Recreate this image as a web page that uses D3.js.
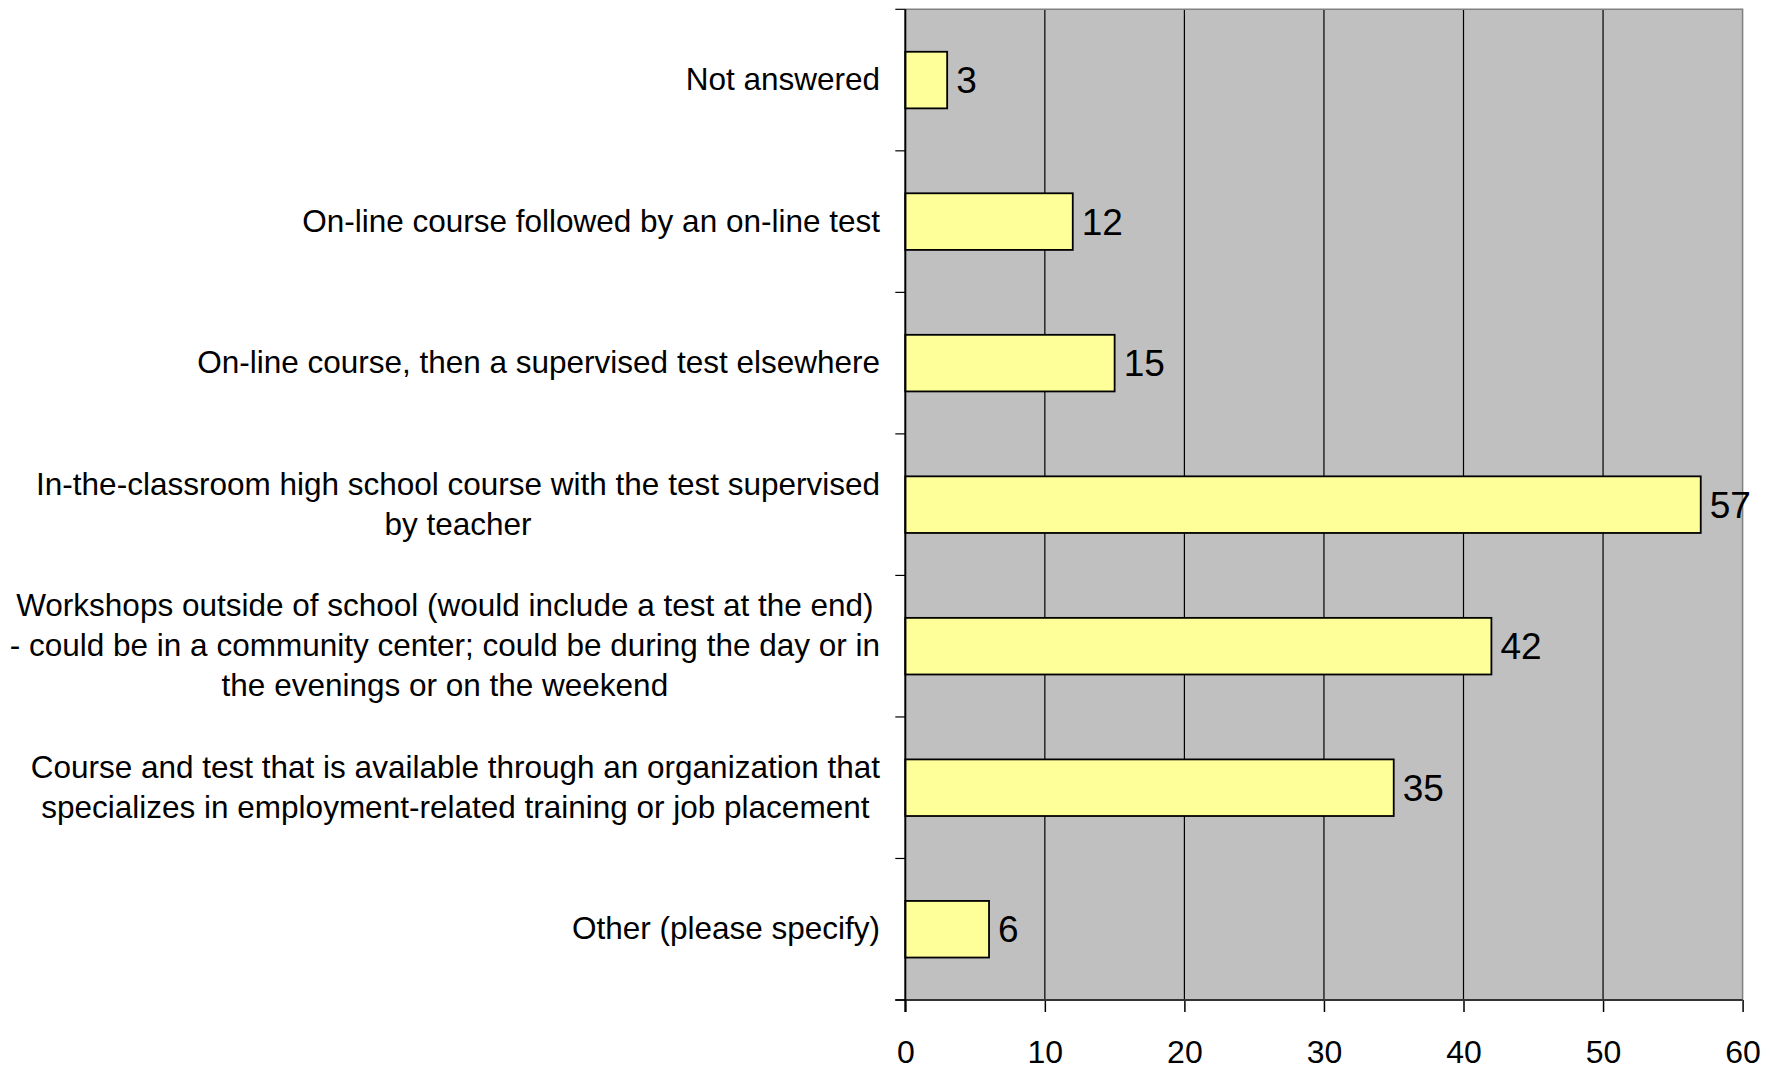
<!DOCTYPE html>
<html>
<head>
<meta charset="utf-8">
<script src="https://cdn.jsdelivr.net/npm/d3@7"></script>
<style>
  body { margin: 0; background: #fff; }
  svg { display: block; font-family: "Liberation Sans", Arial, sans-serif; }
</style>
</head>
<body>
<svg id="chart" width="1783" height="1070"></svg>
<script>
// categories, top to bottom (each entry = label lines)
var categories = [
	['Not answered'],
	['On-line course followed by an on-line test'],
	['On-line course, then a supervised test elsewhere'],
	['In-the-classroom high school course with the test supervised', 'by teacher'],
	['Workshops outside of school (would include a test at the end)', '- could be in a community center; could be during the day or in', 'the evenings or on the weekend'],
	['Course and test that is available through an organization that', 'specializes in employment-related training or job placement'],
	['Other (please specify)']
]
var values = [3, 12, 15, 57, 42, 35, 6]
var xTicks = [0, 10, 20, 30, 40, 50, 60]

var svg = d3.select("#chart")
var plotLeft = 905.3, plotRight = 1742.6, plotTop = 9.3, plotBottom = 1000

var x = d3.scaleLinear().domain([0, 60]).range([plotLeft, plotRight])
var y = d3.scaleBand()
	.domain(d3.range(categories.length))
	.range([plotTop, plotBottom])
	.paddingInner(0.6)
	.paddingOuter(0.3)

// plot background
svg.append('rect')
	.attr('x', plotLeft).attr('y', plotTop)
	.attr('width', plotRight - plotLeft).attr('height', plotBottom - plotTop)
	.attr('fill', '#c0c0c0')

// vertical gridlines
svg.selectAll('.grid')
	.data(xTicks.filter(function (d) { return d > 0 && d < 60 }))
	.join('line')
	.attr('class', 'grid')
	.attr('x1', function (d) { return x(d) }).attr('x2', function (d) { return x(d) })
	.attr('y1', plotTop).attr('y2', plotBottom)
	.attr('stroke', '#000').attr('stroke-width', 1.2)

// top and right border (gray)
svg.append('path')
	.attr('d', 'M' + plotLeft + ',' + plotTop + 'H' + plotRight + 'V' + plotBottom)
	.attr('fill', 'none').attr('stroke', '#808080').attr('stroke-width', 1.5)

// bars
svg.selectAll('.bar')
	.data(values)
	.join('rect')
	.attr('class', 'bar')
	.attr('x', x(0))
	.attr('y', function (d, i) { return y(i) })
	.attr('width', function (d) { return x(d) - x(0) })
	.attr('height', y.bandwidth())
	.attr('fill', '#ffff99')
	.attr('stroke', '#000').attr('stroke-width', 1.8)

// value labels
svg.selectAll('.val')
	.data(values)
	.join('text')
	.attr('class', 'val')
	.attr('x', function (d) { return x(d) + 9 })
	.attr('y', function (d, i) { return y(i) + y.bandwidth() / 2 + 13 })
	.attr('font-size', '37px')
	.attr('fill', '#000')
	.text(function (d) { return d })

// x axis
var xAxis = d3.axisBottom(x).tickValues(xTicks).tickSize(12).tickPadding(0).tickFormat(d3.format('d'))
var gx = svg.append('g').attr('transform', 'translate(0,' + plotBottom + ')').call(xAxis)
gx.attr('font-size', null).attr('font-family', null)
gx.select('.domain').remove()
gx.selectAll('line').attr('stroke', '#000').attr('stroke-width', 1.5)
gx.selectAll('text').attr('font-size', '32px').attr('fill', '#000').attr('dy', null).attr('y', 63)
gx.append('line').attr('x1', plotLeft - 10).attr('x2', plotRight).attr('stroke', '#333').attr('stroke-width', 2)

// y axis line + ticks at band boundaries
var boundaries = d3.range(categories.length + 1).map(function (i) { return plotTop + i * y.step() })
svg.selectAll('.ytick')
	.data(boundaries)
	.join('line')
	.attr('class', 'ytick')
	.attr('x1', plotLeft - 10).attr('x2', plotLeft)
	.attr('y1', function (d) { return d }).attr('y2', function (d) { return d })
	.attr('stroke', '#000').attr('stroke-width', 1.2)
svg.append('line')
	.attr('x1', plotLeft).attr('x2', plotLeft).attr('y1', plotTop).attr('y2', plotBottom + 12)
	.attr('stroke', '#000').attr('stroke-width', 2)

// category labels: block right aligned, lines centred in block
var lineH = 40, labelRight = 880
var lab = svg.selectAll('.cat')
	.data(categories)
	.join('text')
	.attr('class', 'cat')
	.attr('font-size', '31.5px')
	.attr('fill', '#000')
	.attr('text-anchor', 'middle')
lab.each(function (lines, i) {
	var t = d3.select(this)
	var cy = y(i) + y.bandwidth() / 2
	var y0 = cy - (lines.length - 1) * lineH / 2 + 10
	lines.forEach(function (s, j) {
		t.append('tspan').attr('y', y0 + j * lineH).text(s)
	})
	var w = d3.max(t.selectAll('tspan').nodes(), function (n) { return n.getComputedTextLength() })
	t.selectAll('tspan').attr('x', labelRight - w / 2)
})
</script>
</body>
</html>
